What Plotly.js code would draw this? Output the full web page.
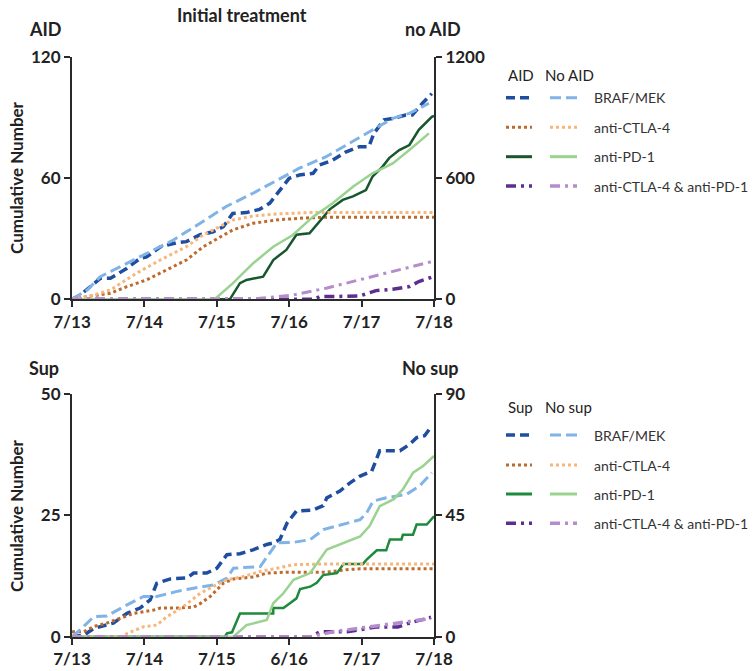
<!DOCTYPE html>
<html><head><meta charset="utf-8">
<script src="https://cdn.plot.ly/plotly-3.0.1.min.js"></script>
<style>html,body{margin:0;padding:0;background:#fff}#chart{width:754px;height:671px}</style>
</head><body><div id="chart"></div>
<script>
// x values are years since 7/13
const xTickVals = [0,1,2,3,4,5];
const xTicksTop = ['7/13','7/14','7/15','7/16','7/17','7/18'];
const xTicksBottom = ['7/13','7/14','7/15','6/16','7/17','7/18'];
const seriesNames = ['BRAF/MEK','anti-CTLA-4','anti-PD-1','anti-CTLA-4 & anti-PD-1'];

// ---- Top panel: AID (left axis) ----
const aidBrafX = [0,0.11,0.39,0.53,0.76,0.94,1.03,1.22,1.44,1.58,1.77,1.95,2.09,2.22,2.41,2.59,2.73,2.87,3.0,3.14,3.33,3.42,3.6,3.78,3.97,4.1,4.17,4.31,4.43,4.61,4.7,4.84,4.97];
const aidBrafY = [0,2,10.4,10.4,15.4,20.3,21,26,28,28.6,32,33.5,36,42.6,43,44.6,47.6,54.2,60,61.6,62.5,66.6,69,73,75.7,75.7,82.3,89,89.7,91.4,91.4,97.2,102];
const aidCtlaX = [0,0.2,0.53,0.76,1.03,1.3,1.58,1.81,2.0,2.22,2.5,2.82,3.14,3.51,5];
const aidCtlaY = [0,1.3,3,6.3,9.6,14.5,19.5,26,30,34.4,37.7,39.3,40.2,40.7,40.7];
const aidPd1X = [0,2.18,2.32,2.41,2.64,2.78,2.96,3.1,3.28,3.46,3.56,3.74,3.88,4.06,4.15,4.29,4.38,4.52,4.66,4.79,4.97,5];
const aidPd1Y = [0,0,8,9.6,11.2,19.5,24.5,32,32.7,40.2,44.6,49.3,51,54.2,60.8,65.8,70,74,76.5,84,90.5,91];
const aidComboX = [0,3.35,3.42,3.97,4.2,4.43,4.66,4.79,4.97];
const aidComboY = [0,0,1.3,1.6,4.3,5,6.3,8.8,11];
// ---- Top panel: no AID (right axis) ----
const noAidBrafX = [0,0.21,0.39,0.76,1.12,1.4,1.77,2.13,2.5,2.87,3.14,3.51,3.88,4.15,4.43,4.66,4.93];
const noAidBrafY = [0,46,112,178,245,294,377,460,526,600,650,707,782,840,897,922,972];
const noAidCtlaX = [0,0.3,0.53,0.89,1.22,1.58,1.81,2.04,2.22,2.5,2.82,3.28,5];
const noAidCtlaY = [0,21,46,129,195,261,319,360,393,413,423,430,430];
const noAidPd1X = [0,1.97,2.22,2.5,2.78,3.05,3.33,3.6,3.88,4.15,4.43,4.66,4.93];
const noAidPd1Y = [0,0,79,178,261,319,410,476,558,625,674,740,823];
const noAidComboX = [0,2.3,2.59,3.05,3.51,3.97,4.43,4.97];
const noAidComboY = [0,0,5,21,55,96,137,187];

// ---- Bottom panel: Sup (left axis) ----
const supBrafX = [0,0.16,0.3,0.57,0.76,0.94,1.08,1.17,1.36,1.59,1.68,1.86,2.0,2.14,2.32,2.5,2.69,2.78,2.87,2.97,3.1,3.33,3.47,3.52,3.7,3.84,3.98,4.14,4.25,4.53,4.67,4.76,4.87,4.94];
const supBrafY = [0,0.3,1.7,2.8,4.8,5.9,7.6,11,11.9,12.1,13.1,13.1,14.1,16.9,17.1,17.9,19,19.3,20,23.4,25.9,26.1,27,28.6,30,31.7,33.1,34.1,38.3,38.3,39.7,41,41.4,42.8];
const supCtlaX = [0,0.16,0.3,0.48,0.67,0.85,1.13,1.22,1.45,1.68,1.77,1.91,2.09,2.23,2.51,2.69,2.97,3.52,3.79,3.98,5];
const supCtlaY = [1,1,2.1,2.8,3.8,4.8,5.5,5.9,5.9,6.1,6.8,8.3,11,11.9,12.3,13.1,13.3,13.3,13.8,14,14];
const supPd1X = [0,2.11,2.14,2.21,2.32,2.78,2.78,2.92,3.01,3.1,3.15,3.29,3.38,3.47,3.66,3.75,4.02,4.07,4.21,4.34,4.39,4.55,4.57,4.71,4.76,4.9,5];
const supPd1Y = [0,0,0.7,0.9,4.8,4.8,5.9,5.9,6.9,7.9,9.8,10.3,11.1,12.7,13.1,15,15,15.9,17.8,17.8,20,20,21,21,23.1,23.1,24.8];
const supComboX = [0,3.3,3.42,3.8,4.2,4.5,4.7,4.96];
const supComboY = [0,0,1,1,2,2,3,4];
// ---- Bottom panel: No sup (right axis) ----
const noSupBrafX = [0,0.11,0.3,0.48,0.76,0.99,1.17,1.45,1.68,1.95,2.14,2.23,2.6,2.83,3.06,3.29,3.47,3.79,3.98,4.07,4.16,4.34,4.62,4.8,4.97];
const noSupBrafY = [0,2.5,7.4,7.7,11.8,14.9,14.9,16.8,18,19.2,21.7,25.4,26,34.8,35,36,39.7,42.2,43.4,45.9,50.3,51.5,52.8,55.9,60.8];
const noSupCtlaX = [0,0.7,0.76,0.99,1.17,1.31,1.54,1.77,1.95,2.14,2.37,2.6,2.83,3.06,3.52,5];
const noSupCtlaY = [0,0,1.2,3.7,4.3,7.4,11.2,16.1,18.6,21.1,22.3,24.2,25.4,26.7,27,27];
const noSupPd1X = [0,2.23,2.41,2.69,2.78,2.92,3.06,3.29,3.52,3.75,3.98,4.11,4.25,4.44,4.57,4.71,4.85,5];
const noSupPd1Y = [0,0,4.3,6.2,12.4,16.1,21.1,23.6,32.3,34.8,37.2,41,48.4,50.9,54.6,60.8,63.3,67];
const noSupComboX = [0,3.3,3.6,4.0,4.4,4.7,4.96];
const noSupComboY = [0,0,1.8,3.2,4.5,5.8,6.8];

const C = {
  darkBlue:'#1f4e9f', lightBlue:'#80b3e6',
  darkOrange:'#bd6a2c', lightOrange:'#f6b67c',
  darkGreenTop:'#17572d', darkGreenBot:'#1e8a3c', lightGreen:'#9ad28f',
  darkPurple:'#5d2e8f', lightPurple:'#b58dca'
};
const DASH_DARK = '9px,5px', DASH_LIGHT = '11px,5px', DASHDOT = '10px,5px,3px,5px';

function tr(x,y,xa,ya,color,width,dash){
  return {x:x,y:y,xaxis:xa,yaxis:ya,type:'scatter',mode:'lines',
    line:{color:color,width:width,dash:dash},showlegend:false,hoverinfo:'skip'};
}
const data = [
  tr(noAidBrafX,noAidBrafY,'x','y2',C.lightBlue,3,DASH_LIGHT),
  tr(noAidCtlaX,noAidCtlaY,'x','y2',C.lightOrange,3,'dot'),
  tr(noAidPd1X,noAidPd1Y,'x','y2',C.lightGreen,2.5,'solid'),
  tr(noAidComboX,noAidComboY,'x','y2',C.lightPurple,3,DASHDOT),
  tr(aidBrafX,aidBrafY,'x','y',C.darkBlue,3.5,DASH_DARK),
  tr(aidCtlaX,aidCtlaY,'x','y',C.darkOrange,3,'dot'),
  tr(aidPd1X,aidPd1Y,'x','y',C.darkGreenTop,2.5,'solid'),
  tr(aidComboX,aidComboY,'x','y',C.darkPurple,3.5,DASHDOT),

  tr(noSupBrafX,noSupBrafY,'x2','y4',C.lightBlue,3,DASH_LIGHT),
  tr(noSupCtlaX,noSupCtlaY,'x2','y4',C.lightOrange,3,'dot'),
  tr(noSupPd1X,noSupPd1Y,'x2','y4',C.lightGreen,2.5,'solid'),
  tr(noSupComboX,noSupComboY,'x2','y4',C.lightPurple,3.5,DASHDOT),
  tr(supBrafX,supBrafY,'x2','y3',C.darkBlue,3.5,DASH_DARK),
  tr(supCtlaX,supCtlaY,'x2','y3',C.darkOrange,3,'dot'),
  tr(supPd1X,supPd1Y,'x2','y3',C.darkGreenBot,2.5,'solid'),
  tr(supComboX,supComboY,'x2','y3',C.darkPurple,3.5,DASHDOT)
];

const W=754,H=671;
const px = v=>v/W, py = v=>1-v/H;
const FONT='Lato, "Open Sans", sans-serif';
const tickFont={family:FONT,size:17,color:'#222'};
const axisBase={showline:true,linecolor:'#2a2a2a',linewidth:2,ticks:'outside',ticklen:6,tickwidth:2,tickcolor:'#2a2a2a',showgrid:false,zeroline:false,fixedrange:true,tickfont:tickFont};
const xDom=[px(72),px(434)];

const layout = {
  width:W,height:H,margin:{l:0,r:0,t:0,b:0},paper_bgcolor:'#fff',plot_bgcolor:'rgba(0,0,0,0)',
  font:{family:FONT},showlegend:false,
  xaxis:Object.assign({},axisBase,{domain:xDom,anchor:'y',range:[0,5],tickvals:xTickVals,ticktext:xTicksTop.map(t=>'<b>'+t+'</b>')}),
  yaxis:Object.assign({},axisBase,{domain:[py(299.3),py(57.3)],anchor:'x',range:[0,120],tickvals:[0,60,120],ticktext:['<b>0</b>','<b>60</b>','<b>120</b>']}),
  yaxis2:Object.assign({},axisBase,{overlaying:'y',side:'right',anchor:'x',range:[0,1200],tickvals:[0,600,1200],ticktext:['<b>0</b>','<b>600</b>','<b>1200</b>']}),
  xaxis2:Object.assign({},axisBase,{domain:xDom,anchor:'y3',range:[0,5],tickvals:xTickVals,ticktext:xTicksBottom.map(t=>'<b>'+t+'</b>')}),
  yaxis3:Object.assign({},axisBase,{domain:[py(636.7),py(394)],anchor:'x2',range:[0,50],tickvals:[0,25,50],ticktext:['<b>0</b>','<b>25</b>','<b>50</b>']}),
  yaxis4:Object.assign({},axisBase,{overlaying:'y3',side:'right',anchor:'x2',range:[0,90],tickvals:[0,45,90],ticktext:['<b>0</b>','<b>45</b>','<b>90</b>']}),
  annotations:[],shapes:[]
};

function txt(x,y,t,size,bold,opts){
  layout.annotations.push(Object.assign({xref:'paper',yref:'paper',x:px(x),y:py(y),text:bold?'<b>'+t+'</b>':t,showarrow:false,
    xanchor:'center',yanchor:'middle',font:{family:FONT,size:size,color:'#222'}},opts||{}));
}
txt(242,15,'Initial treatment',18,true);
txt(45,29,'AID',18,true);
txt(433,29,'no AID',18,true);
txt(44,368,'Sup',18,true);
txt(430,368,'No sup',18,true);
txt(16,178,'Cumulative Number',17,true,{textangle:-90});
txt(16,516,'Cumulative Number',17,true,{textangle:-90});

function legend(y0,hdrL,hdrR,rows,darkColors,lightColors){
  txt(506,y0,hdrL,15,false,{xanchor:'left'});
  txt(543,y0,hdrR,15,false,{xanchor:'left'});
  const styles=[[DASH_DARK,DASH_LIGHT,3.5,3],['dot','dot',3,3],['solid','solid',3,3],[DASHDOT,DASHDOT,3.5,3.5]];
  rows.forEach((yy,i)=>{
    layout.shapes.push({type:'line',xref:'paper',yref:'paper',x0:px(506),x1:px(532),y0:py(yy),y1:py(yy),line:{color:darkColors[i],width:styles[i][2],dash:styles[i][0]}});
    layout.shapes.push({type:'line',xref:'paper',yref:'paper',x0:px(550),x1:px(577),y0:py(yy),y1:py(yy),line:{color:lightColors[i],width:styles[i][3],dash:styles[i][1]}});
    txt(592,yy,seriesNames[i],14,false,{xanchor:'left',font:{family:FONT,size:14,color:'#333'}});
  });
}
legend(75,'AID','No AID',[97.7,127.3,156.7,186],[C.darkBlue,C.darkOrange,C.darkGreenTop,C.darkPurple],[C.lightBlue,C.lightOrange,C.lightGreen,C.lightPurple]);
legend(407,'Sup','No sup',[435,465,494,523.3],[C.darkBlue,C.darkOrange,C.darkGreenBot,C.darkPurple],[C.lightBlue,C.lightOrange,C.lightGreen,C.lightPurple]);

Plotly.newPlot('chart',data,layout,{staticPlot:true,displayModeBar:false});
</script></body></html>
